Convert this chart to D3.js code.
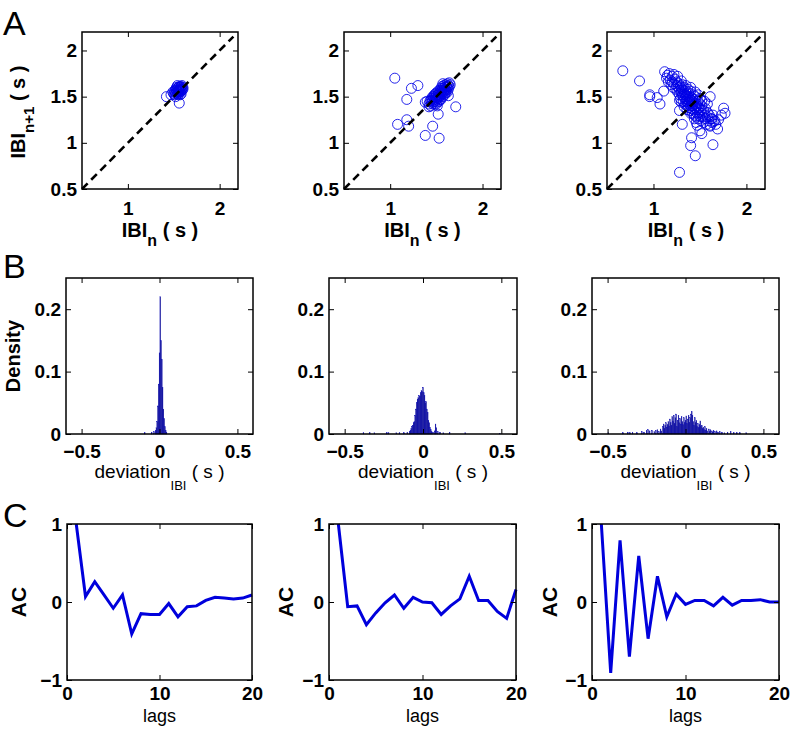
<!DOCTYPE html>
<html><head><meta charset="utf-8">
<script src="https://cdn.jsdelivr.net/npm/d3@7"></script>
<style>
body{margin:0;background:#fff}
text{font-family:"Liberation Sans",Arial,sans-serif;fill:#000}
.tick text{font-weight:bold;font-size:19px}
.tick line{stroke:#000;stroke-width:1}
.domain{display:none}
</style>
</head><body>
<svg id="chart" width="793" height="734"></svg>
<script>
// ---------------- DATA ----------------
const scatterDomain = [0.5, 2.2];
const scatterXTicks = [1, 2];
const scatterYTicks = [0.5, 1, 1.5, 2];
const diagonal = [0.5, 2.15];

const pointsA1 = [[1.50,1.53],[1.51,1.56],[1.52,1.54],[1.52,1.58],[1.53,1.55],[1.53,1.57],[1.54,1.53],[1.54,1.56],[1.54,1.59],[1.55,1.55],[1.55,1.57],[1.55,1.60],[1.56,1.54],[1.56,1.56],[1.56,1.58],[1.57,1.55],[1.57,1.57],[1.57,1.60],[1.58,1.56],[1.58,1.58],[1.58,1.61],[1.59,1.57],[1.59,1.59],[1.56,1.61],[1.53,1.60],[1.51,1.52],[1.55,1.52],[1.58,1.53],[1.60,1.58],[1.60,1.60],[1.49,1.55],[1.52,1.50],[1.57,1.52],[1.59,1.62],[1.54,1.62],[1.42,1.50],[1.56,1.43],[1.47,1.52]];

const pointsA2 = [[1.42,1.42],[1.43,1.45],[1.44,1.40],[1.45,1.44],[1.45,1.48],[1.46,1.42],[1.46,1.46],[1.47,1.50],[1.47,1.44],[1.48,1.47],[1.48,1.52],[1.48,1.42],[1.49,1.49],[1.49,1.45],[1.50,1.51],[1.50,1.47],[1.50,1.54],[1.51,1.49],[1.51,1.44],[1.52,1.52],[1.52,1.56],[1.52,1.48],[1.53,1.50],[1.53,1.54],[1.54,1.57],[1.54,1.52],[1.54,1.47],[1.55,1.55],[1.55,1.59],[1.55,1.51],[1.56,1.53],[1.56,1.57],[1.56,1.61],[1.57,1.55],[1.57,1.59],[1.57,1.50],[1.58,1.57],[1.58,1.62],[1.58,1.53],[1.59,1.60],[1.59,1.56],[1.60,1.63],[1.60,1.58],[1.60,1.54],[1.61,1.61],[1.61,1.57],[1.62,1.64],[1.62,1.60],[1.63,1.62],[1.63,1.58],[1.64,1.65],[1.64,1.61],[1.65,1.63],[1.53,1.45],[1.51,1.40],[1.49,1.53],[1.46,1.50],[1.59,1.52],[1.62,1.55],[1.57,1.64],[1.44,1.46],[1.50,1.42],[1.55,1.47],
  [1.05,1.70],[1.30,1.62],[1.23,1.59],[1.18,1.47],[1.08,1.20],[1.18,1.25],[1.20,1.18],[1.38,1.08],[1.46,1.18],[1.53,1.05],[1.52,1.31],[1.71,1.39],[1.38,1.44],[1.42,1.39],[1.40,1.45],[1.63,1.51]];

const pointsA3 = [[1.14,1.70],[1.16,1.66],[1.18,1.68],[1.19,1.63],[1.20,1.66],[1.21,1.60],[1.22,1.64],[1.23,1.69],[1.24,1.58],[1.25,1.62],[1.25,1.66],[1.26,1.55],[1.27,1.60],[1.27,1.64],[1.28,1.52],[1.28,1.57],[1.29,1.61],[1.29,1.48],[1.30,1.55],[1.30,1.59],[1.31,1.52],[1.31,1.63],[1.32,1.45],[1.32,1.50],[1.32,1.57],[1.33,1.54],[1.33,1.60],[1.34,1.42],[1.34,1.48],[1.34,1.52],[1.35,1.56],[1.35,1.45],[1.35,1.50],[1.36,1.40],[1.36,1.47],[1.36,1.53],[1.37,1.58],[1.37,1.44],[1.37,1.50],[1.38,1.38],[1.38,1.46],[1.38,1.42],[1.38,1.54],[1.39,1.48],[1.39,1.35],[1.39,1.44],[1.40,1.50],[1.40,1.40],[1.40,1.56],[1.41,1.46],[1.41,1.37],[1.41,1.43],[1.42,1.32],[1.42,1.48],[1.42,1.40],[1.43,1.52],[1.43,1.36],[1.43,1.44],[1.44,1.30],[1.44,1.41],[1.44,1.47],[1.45,1.38],[1.45,1.34],[1.45,1.50],[1.46,1.43],[1.46,1.28],[1.47,1.36],[1.47,1.40],[1.47,1.32],[1.48,1.45],[1.48,1.26],[1.49,1.38],[1.49,1.33],[1.50,1.42],[1.50,1.29],[1.51,1.36],[1.51,1.24],[1.52,1.32],[1.52,1.40],[1.53,1.28],[1.54,1.35],[1.54,1.22],[1.55,1.30],[1.56,1.26],[1.56,1.37],[1.57,1.20],[1.58,1.28],[1.58,1.33],[1.59,1.24],[1.60,1.30],[1.61,1.18],[1.62,1.26],[1.63,1.22],[1.64,1.30],[1.66,1.24],[1.67,1.20],[1.55,1.45],[1.50,1.48],[1.45,1.55],[1.40,1.60],[1.35,1.62],[1.30,1.67],[1.26,1.72],[1.20,1.72],[1.17,1.75],[1.48,1.52],[1.52,1.46],[1.58,1.42],[1.33,1.39],[1.30,1.44],[1.40,1.32],[1.46,1.22],[1.44,1.26],[1.36,1.36],[1.28,1.46],
  [0.67,1.78],[0.85,1.67],[0.96,1.52],[0.96,1.50],[1.04,1.49],[1.07,1.42],[1.11,1.56],[1.12,1.77],[1.15,1.73],[1.22,1.74],[1.28,1.35],[1.31,1.20],[1.41,1.055],[1.40,0.97],[1.45,0.86],[1.28,0.68],[1.64,0.98],[1.69,1.15],[1.755,1.375],[1.77,1.32],[1.73,1.30],[1.70,1.25],[1.61,1.50],[1.52,1.10],[1.50,1.13],[1.47,1.19],[1.61,1.19],[1.63,1.26],[1.65,1.23]];

const histDomainX = [-0.6, 0.6];
const histDomainY = [0, 0.25];
const histXTicks = [-0.5, 0, 0.5];
const histYTicks = [0, 0.1, 0.2];
const histBinWidth = 0.005;
const histB1 = [[-0.095,0.002],[-0.05,0.003],[-0.035,0.004],[-0.025,0.006],[-0.02,0.01],[-0.015,0.02],[-0.01,0.045],[-0.005,0.08],[0,0.13],[0.005,0.22],[0.01,0.15],[0.015,0.12],[0.02,0.075],[0.025,0.04],[0.03,0.025],[0.035,0.012],[0.04,0.006],[0.045,0.003]];
const histB2 = [[-0.38,0.002],[-0.34,0.002],[-0.31,0.002],[-0.23,0.002],[-0.22,0.002],[-0.17,0.002],[-0.15,0.002],[-0.12,0.002],[-0.1,0.003],[-0.085,0.004],[-0.08,0.006],[-0.075,0.009],[-0.07,0.012],[-0.065,0.014],[-0.06,0.018],[-0.055,0.02],[-0.05,0.03],[-0.045,0.04],[-0.04,0.05],[-0.035,0.056],[-0.03,0.058],[-0.025,0.062],[-0.02,0.06],[-0.015,0.066],[-0.01,0.07],[-0.005,0.068],[0,0.075],[0.005,0.066],[0.01,0.062],[0.015,0.05],[0.02,0.052],[0.025,0.04],[0.03,0.035],[0.035,0.022],[0.04,0.018],[0.045,0.011],[0.05,0.007],[0.055,0.004],[0.065,0.003],[0.075,0.005],[0.08,0.016],[0.085,0.01],[0.095,0.004],[0.11,0.003],[0.13,0.002],[0.17,0.003],[0.27,0.002],[0.49,0.001]];
const histB3 = [[-0.495,0.002],[-0.40,0.002],[-0.37,0.003],[-0.355,0.002],[-0.34,0.003],[-0.31,0.002],[-0.28,0.004],[-0.265,0.003],[-0.25,0.006],[-0.24,0.007],[-0.23,0.005],[-0.215,0.006],[-0.2,0.004],[-0.19,0.006],[-0.18,0.007],[-0.17,0.004],[-0.16,0.008],[-0.155,0.005],
  [-0.145,0.012],[-0.14,0.016],[-0.135,0.009],[-0.13,0.014],[-0.125,0.018],[-0.12,0.011],[-0.115,0.015],[-0.11,0.02],[-0.105,0.013],[-0.1,0.024],[-0.095,0.018],[-0.09,0.014],[-0.085,0.028],[-0.08,0.02],[-0.075,0.03],[-0.07,0.017],[-0.065,0.026],[-0.06,0.032],[-0.055,0.012],[-0.05,0.022],[-0.045,0.03],[-0.04,0.018],[-0.035,0.025],[-0.03,0.016],[-0.025,0.028],[-0.02,0.02],[-0.015,0.015],[-0.01,0.026],[-0.005,0.018],[0,0.022],[0.005,0.029],[0.01,0.017],[0.015,0.024],[0.02,0.03],[0.025,0.019],[0.03,0.026],[0.035,0.032],[0.04,0.036],[0.045,0.03],[0.05,0.02],[0.055,0.014],[0.06,0.026],[0.065,0.018],[0.07,0.022],[0.075,0.012],[0.08,0.017],[0.085,0.01],[0.09,0.015],[0.095,0.021],[0.1,0.012],[0.105,0.014],[0.11,0.009],[0.115,0.011],[0.12,0.007],[0.125,0.012],[0.13,0.006],[0.135,0.009],[0.14,0.005],[0.15,0.008],[0.155,0.004],[0.16,0.007],[0.17,0.005],[0.175,0.003],[0.18,0.006],[0.19,0.004],[0.2,0.005],[0.21,0.003],[0.22,0.004],
  [0.235,0.003],[0.25,0.002],[0.27,0.003],[0.29,0.004],[0.31,0.002],[0.33,0.002],[0.35,0.002],[0.39,0.002],[0.5,0.001]];

const acDomainX = [0, 20];
const acDomainY = [-1, 1];
const acXTicks = [0, 10, 20];
const acYTicks = [-1, 0, 1];
const lags = [1,2,3,4,5,6,7,8,9,10,11,12,13,14,15,16,17,18,19,20];
const acC1 = [1, 0.07, 0.26, 0.09, -0.08, 0.09, -0.41, -0.15, -0.16, -0.16, -0.02, -0.19, -0.06, -0.05, 0.02, 0.06, 0.05, 0.04, 0.05, 0.09];
const acC2 = [1, -0.06, -0.05, -0.29, -0.14, -0.01, 0.09, -0.08, 0.06, 0, -0.01, -0.16, -0.05, 0.04, 0.33, 0.02, 0.02, -0.12, -0.21, 0.16];
const acC3 = [1, -0.91, 0.79, -0.70, 0.59, -0.47, 0.33, -0.19, 0.10, -0.03, 0.02, 0.02, -0.05, 0.06, -0.04, 0.02, 0.02, 0.03, 0, 0];

// ---------------- DRAW ----------------
const svg = d3.select('#chart');
const minus = s => String(s).replace('-', '\u2212');

function makePanel(box, xDom, yDom) {
  const [l, t, r, b] = box;
  const x = d3.scaleLinear().domain(xDom).range([l, r]);
  const y = d3.scaleLinear().domain(yDom).range([b, t]);
  const g = svg.append('g');
  return {g, x, y, box};
}
function drawAxes(p, xTicks, yTicks, xFmt, yFmt, xPad) {
  const [l, t, r, b] = p.box;
  const g = p.g.append('g');
  g.append('g').attr('transform', `translate(0,${b})`)
    .call(d3.axisBottom(p.x).tickValues(xTicks).tickFormat(xFmt).tickSize(-5).tickSizeOuter(0).tickPadding(xPad));
  g.append('g').attr('transform', `translate(0,${t})`)
    .call(d3.axisTop(p.x).tickValues(xTicks).tickFormat('').tickSize(-5).tickSizeOuter(0));
  g.append('g').attr('transform', `translate(${l},0)`)
    .call(d3.axisLeft(p.y).tickValues(yTicks).tickFormat(yFmt).tickSize(-5).tickSizeOuter(0).tickPadding(5));
  g.append('g').attr('transform', `translate(${r},0)`)
    .call(d3.axisRight(p.y).tickValues(yTicks).tickFormat('').tickSize(-5).tickSizeOuter(0));
  g.selectAll('.tick text').attr('font-family', null).attr('font-size', null);
  g.append('rect').attr('x', l).attr('y', t).attr('width', r - l).attr('height', b - t)
    .attr('fill', 'none').attr('stroke', '#000').attr('stroke-width', 1.5);
}
function label(x, y, parts, opts) {
  const tx = svg.append('text').attr('text-anchor', 'middle')
    .attr('font-weight', opts.bold ? 'bold' : 'normal');
  if (opts.rotate) tx.attr('transform', `translate(${x},${y}) rotate(-90)`);
  else tx.attr('x', x).attr('y', y);
  parts.forEach(([s, size, dy]) => {
    tx.append('tspan').attr('font-size', size).attr('dy', dy).text(s);
  });
  return tx;
}

// Row A: scatter plots
const boxesA = [[82,32,238,189],[344,32,501,189],[607,32,765,189]];
const pointsA = [pointsA1, pointsA2, pointsA3];
const fmtA = d => String(d);
boxesA.forEach((box, i) => {
  const p = makePanel(box, scatterDomain, scatterDomain);
  p.g.append('g').selectAll('circle').data(pointsA[i]).join('circle')
    .attr('cx', d => p.x(d[0])).attr('cy', d => p.y(d[1])).attr('r', 5)
    .attr('fill', 'none').attr('stroke', '#0000e6').attr('stroke-width', 0.85);
  p.g.append('line')
    .attr('x1', p.x(diagonal[0])).attr('y1', p.y(diagonal[0]))
    .attr('x2', p.x(diagonal[1])).attr('y2', p.y(diagonal[1]))
    .attr('stroke', '#000').attr('stroke-width', 2.6).attr('stroke-dasharray', '8,5');
  drawAxes(p, scatterXTicks, scatterYTicks, fmtA, fmtA, 13);
  const cx = (box[0] + box[2]) / 2;
  label(cx, 237, [['IBI', 20, 0], ['n', 16, 9], [' ( s )', 20, -9]], {bold: true});
});
label(25, 112, [['IBI', 20, 0], ['n+1', 15, 9], [' ( s )', 20, -9]], {bold: true, rotate: true});

// Row B: histograms
const boxesB = [[66,278,253,434],[329,278,517,434],[592,278,779,434]];
const histB = [histB1, histB2, histB3];
boxesB.forEach((box, i) => {
  const p = makePanel(box, histDomainX, histDomainY);
  p.g.append('g').selectAll('rect').data(histB[i]).join('rect')
    .attr('x', d => p.x(d[0] - histBinWidth / 2))
    .attr('width', d => p.x(d[0] + histBinWidth / 2) - p.x(d[0] - histBinWidth / 2))
    .attr('y', d => p.y(d[1]))
    .attr('height', d => p.y(0) - p.y(d[1]))
    .attr('fill', '#00007c').attr('stroke', '#1010c0').attr('stroke-width', 0.3);
  drawAxes(p, histXTicks, histYTicks, d => minus(d), d => String(d), 11);
  const cx = (box[0] + box[2]) / 2;
  label(cx, 478, [['deviation', 19, 0], ['IBI', 13, 12], [' ( s )', 19, -12]], {bold: false});
});
label(20, 356, [['Density', 20, 0]], {bold: true, rotate: true});

// Row C: autocorrelation
const boxesC = [[67,524,252,680],[329,524,516,680],[592,524,779,680]];
const acC = [acC1, acC2, acC3];
const acLabelX = [26, 293, 557];
boxesC.forEach((box, i) => {
  const p = makePanel(box, acDomainX, acDomainY);
  const line = d3.line().x((d, j) => p.x(lags[j])).y(d => p.y(d));
  p.g.append('path').datum(acC[i]).attr('d', line)
    .attr('fill', 'none').attr('stroke', '#0000dc').attr('stroke-width', 3).attr('stroke-linejoin', 'miter');
  drawAxes(p, acXTicks, acYTicks, d => String(d), d => minus(d), 7);
  const cx = (box[0] + box[2]) / 2;
  label(cx, 722, [['lags', 18, 0]], {bold: false});
  label(acLabelX[i], (box[1] + box[3]) / 2, [['AC', 21, 0]], {bold: true, rotate: true});
});

// Panel letters
const panelLetters = ['A', 'B', 'C'];
const letterY = [35, 278, 527];
panelLetters.forEach((s, i) => {
  svg.append('text').attr('x', 3).attr('y', letterY[i]).attr('font-size', 34).text(s);
});
</script>
</body></html>
